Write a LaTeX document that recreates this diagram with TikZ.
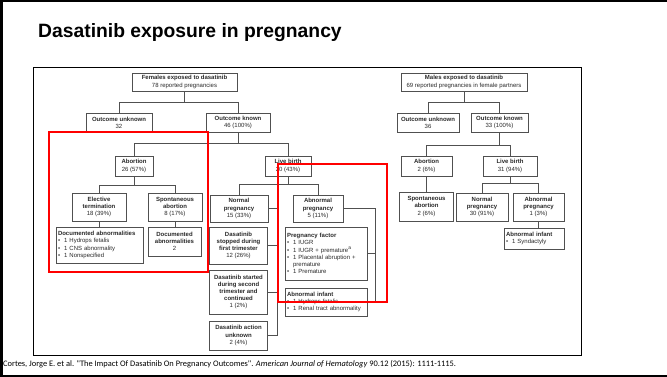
\documentclass[tikz,border=0pt]{standalone}
\usepackage{fontspec}
\setmainfont{Liberation Sans}
\newfontfamily\footfont{Carlito}
\definecolor{boxline}{HTML}{505050}
\definecolor{boxtext}{HTML}{2A2A2A}
\definecolor{hlred}{HTML}{FF0000}
\begin{document}
\begin{tikzpicture}[x=1pt,y=-1pt,
  bx/.style={draw=boxline, line width=0.9pt, fill=white, text=boxtext,
    font=\fontsize{6}{7.2}\selectfont, align=center, inner sep=1pt},
  lbx/.style={draw=boxline, line width=0.9pt, fill=white, text=boxtext,
    font=\fontsize{6}{7.2}\selectfont, align=left, inner sep=2pt},
  ln/.style={draw=boxline, line width=0.9pt},
  hl/.style={draw=hlred, line width=2pt}]
\useasboundingbox (0,0) rectangle (667,377);
\fill[white] (0,0) rectangle (667,377);
% slide frame
\draw[line width=2.5pt] (0,1.2) -- (667,1.2);
\draw[line width=2.5pt] (0,375.8) -- (667,375.8);
\draw[line width=3pt] (1.5,0) -- (1.5,377);
% title
\node[anchor=base west, inner sep=0, font=\bfseries\fontsize{19.3}{22}\selectfont] (title) at (38,38) {Dasatinib exposure in pregnancy};
% figure frame
\draw[line width=0.9pt] (33,67) rectangle (581,355);

% ---------- Females tree ----------
\node[bx, minimum width=105, minimum height=18] (fem) at (184.5,82) {\textbf{Females exposed to dasatinib}\\78 reported pregnancies};
\node[bx, minimum width=66, minimum height=19] (fou) at (119,122.5) {\textbf{Outcome unknown}\\32};
\node[bx, minimum width=64, minimum height=19] (fok) at (238,122.5) {\textbf{Outcome known}\\46 (100\%)};
\node[bx, minimum width=38, minimum height=20] (fab) at (134,166) {\textbf{Abortion}\\26 (57\%)};
\node[bx, minimum width=46, minimum height=20] (flb) at (288,166) {\textbf{Live birth}\\20 (43\%)};
\node[bx, minimum width=54, minimum height=28] (fel) at (99,207) {\textbf{Elective}\\\textbf{termination}\\18 (39\%)};
\node[bx, minimum width=54, minimum height=28] (fsp) at (175,207) {\textbf{Spontaneous}\\\textbf{abortion}\\8 (17\%)};
\node[lbx, text width=83, minimum height=36] (fda) at (99.5,245) {\textbf{Documented abnormalities}\\\textbullet\ \ 1 Hydrops fetalis\\\textbullet\ \ 1 CNS abnormality\\\textbullet\ \ 1 Nonspecified};
\node[bx, minimum width=53, minimum height=29] (fdb) at (174.5,241.5) {\textbf{Documented}\\\textbf{abnormalities}\\2};
\node[bx, minimum width=58, minimum height=27] (fnp) at (239,208.5) {\textbf{Normal}\\\textbf{pregnancy}\\15 (33\%)};
\node[bx, minimum width=50, minimum height=27] (fap) at (318,208.5) {\textbf{Abnormal}\\\textbf{pregnancy}\\5 (11\%)};
\node[bx, minimum width=58, minimum height=37] (fd1) at (238.5,245.5) {\textbf{Dasatinib}\\\textbf{stopped during}\\\textbf{first trimester}\\12 (26\%)};
\node[bx, minimum width=58, minimum height=44] (fd2) at (238.5,292) {\textbf{Dasatinib started}\\\textbf{during second}\\\textbf{trimester and}\\\textbf{continued}\\1 (2\%)};
\node[bx, minimum width=58, minimum height=29] (fd3) at (238.5,335.5) {\textbf{Dasatinib action}\\\textbf{unknown}\\2 (4\%)};
\node[lbx, text width=78, minimum height=53] (fpf) at (326,253.5) {\textbf{Pregnancy factor}\\\textbullet\ \ 1 IUGR\\\textbullet\ \ 1 IUGR + premature\textsuperscript{a}\\\textbullet\ \ 1 Placental abruption +\\\phantom{\textbullet\ \ }premature\\\textbullet\ \ 1 Premature};
\node[lbx, text width=78, minimum height=28] (fai) at (326,302) {\textbf{Abnormal infant}\\\textbullet\ \ 1 Hydrops fetalis\\\textbullet\ \ 1 Renal tract abnormality};

\draw[ln] (fem.south) -- ++(0,11) -| (fou.north);
\draw[ln] (fem.south) -- ++(0,11) -| (fok.north);
\draw[ln] (fok.south) -- ++(0,11) -| (fab.north);
\draw[ln] (fok.south) -- ++(0,11) -| (flb.north);
\draw[ln] (fab.south) -- ++(0,9) -| (fel.north);
\draw[ln] (fab.south) -- ++(0,9) -| (fsp.north);
\draw[ln] (fel.south) -- (fda.north -| fel.south);
\draw[ln] (fsp.south) -- (fdb.north -| fsp.south);
\draw[ln] (flb.south) -- ++(0,8) -| (fnp.north);
\draw[ln] (flb.south) -- ++(0,8) -| (fap.north);
\draw[ln] (fnp.east) -- ++(9,0) |- (fd1.east);
\draw[ln] (fnp.east) -- ++(9,0) |- (fd2.east);
\draw[ln] (fnp.east) -- ++(9,0) |- (fd3.east);
\draw[ln] (fap.east) -- ++(32,0) |- (fpf.east);
\draw[ln] (fap.east) -- ++(32,0) |- (fai.east);

% ---------- Males tree ----------
\node[bx, minimum width=126, minimum height=18] (mex) at (464,82) {\textbf{Males exposed to dasatinib}\\69 reported pregnancies in female partners};
\node[bx, minimum width=62, minimum height=19] (mou) at (428,122.5) {\textbf{Outcome unknown}\\36};
\node[bx, minimum width=57, minimum height=19] (mok) at (499.5,122.5) {\textbf{Outcome known}\\33 (100\%)};
\node[bx, minimum width=51, minimum height=20] (mab) at (426.5,166) {\textbf{Abortion}\\2 (6\%)};
\node[bx, minimum width=54, minimum height=20] (mlb) at (510,166) {\textbf{Live birth}\\31 (94\%)};
\node[bx, minimum width=54, minimum height=29] (msp) at (426.5,206.5) {\textbf{Spontaneous}\\\textbf{abortion}\\2 (6\%)};
\node[bx, minimum width=52, minimum height=28] (mnp) at (482,207) {\textbf{Normal}\\\textbf{pregnancy}\\30 (91\%)};
\node[bx, minimum width=51, minimum height=28] (map) at (538.5,207) {\textbf{Abnormal}\\\textbf{pregnancy}\\1 (3\%)};
\node[lbx, text width=56, minimum height=21] (mai) at (534,238.5) {\textbf{Abnormal infant}\\\textbullet\ \ 1 Syndactyly};

\draw[ln] (mex.south) -- ++(0,11) -| (mou.north);
\draw[ln] (mex.south) -- ++(0,11) -| (mok.north);
\draw[ln] (mok.south) -- ++(0,13) -| (mab.north);
\draw[ln] (mok.south) -- ++(0,13) -| (mlb.north);
\draw[ln] (mab.south) -- (msp.north);
\draw[ln] (mlb.south) -- ++(0,7) -| (mnp.north);
\draw[ln] (mlb.south) -- ++(0,7) -| (map.north);
\draw[ln] (map.south) -- (mai.north -| map.south);

% highlight boxes
\draw[hl] (49,132) rectangle (208,272);
\draw[hl] (278,164) rectangle (387,302);

% footer
\node[anchor=base west, inner sep=0, font=\footfont\fontsize{8.4}{9}\selectfont] (foot) at (3,366) {Cortes, Jorge E. et al. \textquotedbl The Impact Of Dasatinib On Pregnancy Outcomes\textquotedbl. \textit{American Journal of Hematology} 90.12 (2015): 1111-1115.};
\end{tikzpicture}
\end{document}
